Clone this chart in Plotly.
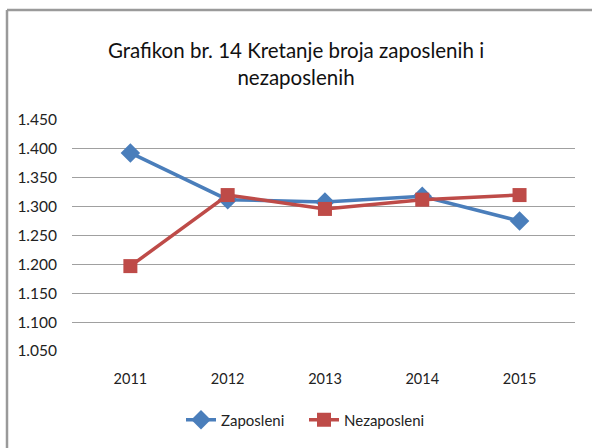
import plotly.graph_objects as go

years = ["2011", "2012", "2013", "2014", "2015"]
zaposleni = [1.393, 1.312, 1.308, 1.318, 1.275]
nezaposleni = [1.197, 1.320, 1.296, 1.312, 1.320]
y_ticks = [1.05, 1.10, 1.15, 1.20, 1.25, 1.30, 1.35, 1.40, 1.45]
y_tick_labels = ["1.050", "1.100", "1.150", "1.200", "1.250", "1.300", "1.350", "1.400", "1.450"]

W, H = 592, 448
L, R, T, B = 72, 17, 120, 97
pw, ph = W - L - R, H - T - B

def px(x):
    return (x - L) / pw

def py(y):
    return (H - B - y) / ph

fig = go.Figure()
fig.add_trace(go.Scatter(
    x=list(range(len(years))), y=zaposleni, name="Zaposleni", mode="lines+markers",
    line=dict(color="#4A7EBB", width=3.5),
    marker=dict(symbol="diamond", size=15, color="#4A7EBB"),
))
fig.add_trace(go.Scatter(
    x=list(range(len(years))), y=nezaposleni, name="Nezaposleni", mode="lines+markers",
    line=dict(color="#BE4B48", width=3.5),
    marker=dict(symbol="square", size=14, color="#BE4B48"),
))

fig.update_layout(
    width=W, height=H,
    margin=dict(l=L, r=R, t=T, b=B, autoexpand=False),
    paper_bgcolor="white", plot_bgcolor="white",
    font=dict(family="Lato, Open Sans, sans-serif", color="#222222", size=14),
    title=dict(
        text="Grafikon br. 14 Kretanje broja zaposlenih i<br>nezaposlenih",
        x=0.5, xanchor="center", y=1 - 58 / H, yanchor="middle",
        font=dict(size=20.5, family="Lato, Open Sans, sans-serif", color="#111111"),
    ),
    xaxis=dict(
        tickmode="array", tickvals=list(range(len(years))), ticktext=years,
        range=[-0.6, 4.57], showgrid=False, zeroline=False, showline=False,
        ticks="", ticklabelstandoff=17, tickfont=dict(size=14.5),
    ),
    yaxis=dict(
        tickmode="array", tickvals=y_ticks, ticktext=y_tick_labels,
        range=[1.05, 1.45], showgrid=True, gridcolor="#A0A0A0", gridwidth=1.3,
        zeroline=False, showline=False, ticks="", ticklabelstandoff=14,
        tickfont=dict(size=15.5),
    ),
    legend=dict(
        orientation="h", x=0.5 + 8 / W, xanchor="center", xref="container",
        y=1 - 420 / H, yanchor="middle", yref="container",
        font=dict(size=15), tracegroupgap=0,
        entrywidth=78, entrywidthmode="pixels",
    ),
    showlegend=True,
)

border = dict(color="#9A9A9A", width=2.5)
fig.add_shape(type="line", xref="paper", yref="paper",
              x0=px(7), x1=px(7), y0=py(452), y1=py(10), line=border, layer="below")
fig.add_shape(type="line", xref="paper", yref="paper",
              x0=px(7), x1=px(596), y0=py(10), y1=py(10), line=border, layer="below")

fig.write_html(
    "out.html", config={"displayModeBar": False},
    post_script=(
        "document.body.style.margin='0';"
        "document.body.style.overflow='hidden';"
        "document.documentElement.style.overflow='hidden';"
    ),
)
